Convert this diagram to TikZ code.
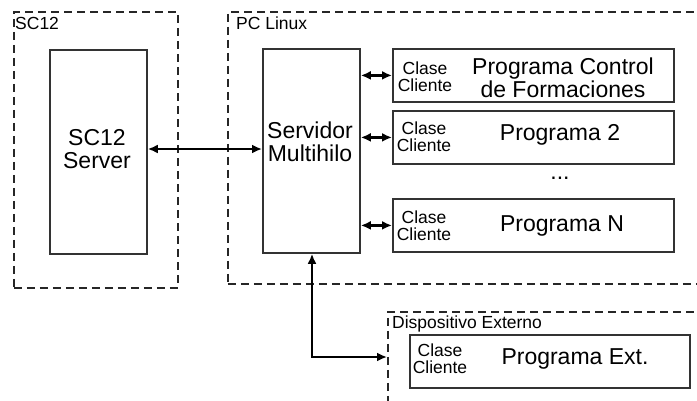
\documentclass[tikz,border=0pt]{standalone}
\usepackage{fontspec}
\setmainfont{Liberation Sans}
\usetikzlibrary{arrows.meta}
\begin{document}
\begin{tikzpicture}[x=1pt,y=-1pt,
 group/.style={draw=black!85, line width=1.8pt, dash pattern=on 8pt off 5pt, rectangle, inner sep=0pt, anchor=north west},
 blk/.style={draw=black!80, line width=1.8pt, rectangle, inner sep=0pt, anchor=north west},
 big/.style={font=\fontsize{23}{22.5}\selectfont, align=center, inner sep=0pt},
 small/.style={font=\fontsize{17.5}{17}\selectfont, align=center, inner sep=0pt},
 lbl/.style={font=\fontsize{17.5}{17}\selectfont, inner sep=0pt, anchor=north west},
 conn/.style={line width=2.4pt, {Latex[length=10pt,width=9pt]}-{Latex[length=10pt,width=9pt]}}
]
\clip (0,0) rectangle (697,400);
\fill[white] (0,0) rectangle (697,400);
% groups
\node[group, minimum width=164pt, minimum height=276pt] (g1) at (13,11) {};
\node[group, minimum width=500pt, minimum height=272pt] (g2) at (227,11) {};
\node[group, minimum width=350pt, minimum height=100pt] (g3) at (387,311) {};
\node[lbl] (l1) at (15,17) {SC12};
\node[lbl] (l2) at (236,17) {PC Linux};
\node[lbl] (l3) at (392,316) {Dispositivo Externo};
% blocks
\node[blk, minimum width=97pt, minimum height=204pt] (server) at (49,49) {};
\node[blk, minimum width=97pt, minimum height=204pt] (multi) at (262,48) {};
\node[blk, minimum width=281pt, minimum height=53pt] (p1) at (392,48) {};
\node[blk, minimum width=281pt, minimum height=53pt] (p2) at (392,110) {};
\node[blk, minimum width=281pt, minimum height=53pt] (pN) at (392,198) {};
\node[blk, minimum width=280pt, minimum height=53pt] (pE) at (409,334) {};
% texts
\node[big] (t1) at (97,149) {SC12\\Server};
\node[big] (t2) at (310,142) {Servidor\\Multihilo};
\node[small] (c1) at (425,77) {Clase\\Cliente};
\node[small] (c2) at (424,137) {Clase\\Cliente};
\node[small] (c3) at (424,226) {Clase\\Cliente};
\node[small] (c4) at (440,359) {Clase\\Cliente};
\node[big] (n1) at (563,78) {Programa Control\\de Formaciones};
\node[big] (n2) at (560,135) {Programa 2};
\node[big] (n3) at (562,226) {Programa N};
\node[big] (n4) at (575,359) {Programa Ext.};
\node[big] (dots) at (560,178) {...};
% connectors
\draw[conn] (server.east |- t1) -- (multi.west |- t1);
\draw[conn] (multi.east |- p1.west) -- (p1.west);
\draw[conn] (multi.east |- p2.west) -- (p2.west);
\draw[conn] (multi.east |- pN.west) -- (pN.west);
\coordinate (bend) at (312,357);
\draw[conn] (bend |- multi.south) -- (bend) -- (bend -| g3.west);
\end{tikzpicture}
\end{document}
